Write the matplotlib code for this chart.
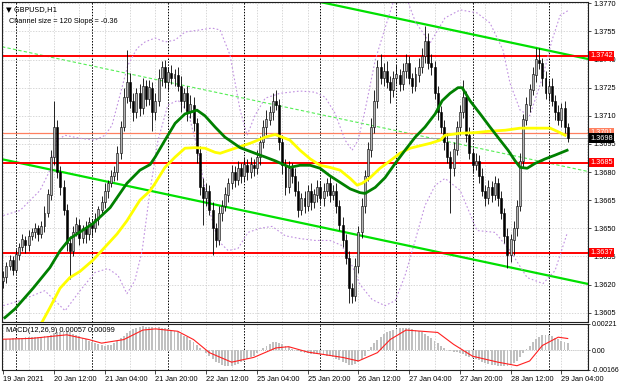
import numpy as np
import matplotlib.pyplot as plt
import matplotlib as mpl

mpl.rcParams['font.family'] = ['Liberation Sans', 'DejaVu Sans']
mpl.rcParams['savefig.dpi'] = 100

# all prices are stored as pips above BASE
BASE = 1.3600
PIP = 0.0001

# hourly bars from 19 Jan 20:00 to 29 Jan 06:00
first_open = 22
closes = [24, 30, 33, 28, 36, 40, 44, 41, 46, 48, 50, 47, 51, 58, 68, 88, 104, 80, 72, 60,
          42, 38, 48, 52, 45, 50, 47, 53, 50, 55, 60, 64, 70, 74, 78, 80, 90, 104, 120, 128,
          118, 112, 122, 114, 126, 119, 125, 112, 118, 130, 136, 128, 133, 130, 132, 126, 118, 122, 112, 116,
          106, 90, 72, 66, 70, 60, 50, 44, 58, 62, 68, 74, 80, 76, 82, 78, 84, 80, 84, 82,
          88, 96, 104, 108, 112, 118, 116, 96, 84, 72, 82, 78, 70, 60, 66, 62, 70, 64, 68, 72,
          66, 70, 74, 68, 70, 62, 52, 44, 34, 18, 14, 30, 48, 62, 78, 92, 104, 118, 136, 130,
          134, 128, 124, 130, 132, 127, 134, 138, 130, 126, 132, 136, 142, 150, 138, 136, 122, 112, 104, 96,
          88, 82, 92, 104, 112, 120, 100, 90, 84, 86, 78, 70, 66, 72, 68, 74, 66, 58, 46, 36,
          44, 50, 62, 86, 108, 116, 124, 132, 140, 138, 130, 122, 126, 118, 112, 108, 114, 104, 98]
upper_wick = [3, 2, 3, 2, 3, 2, 3, 2, 3, 2, 3, 2, 3, 4, 3, 4, 14, 4, 3, 4,
              3, 4, 3, 4, 3, 2, 4, 3, 2, 3, 2, 3, 4, 2, 3, 3, 4, 3, 5, 17,
              5, 4, 3, 5, 4, 3, 4, 3, 4, 5, 3, 4, 3, 4, 3, 4, 5, 3, 4, 5,
              4, 3, 4, 5, 4, 3, 4, 3, 4, 3, 4, 3, 4, 3, 4, 3, 4, 3, 4, 3,
              4, 3, 4, 5, 3, 4, 6, 3, 4, 3, 4, 3, 4, 5, 3, 4, 3, 4, 3, 4,
              3, 4, 3, 4, 3, 4, 3, 4, 3, 4, 3, 4, 3, 4, 3, 4, 5, 6, 4, 7,
              4, 5, 3, 4, 5, 3, 4, 5, 4, 3, 4, 5, 4, 8, 4, 5, 3, 4, 3, 4,
              5, 3, 4, 3, 4, 9, 3, 4, 3, 4, 3, 4, 3, 4, 3, 4, 3, 4, 3, 4,
              3, 4, 3, 4, 3, 4, 3, 4, 6, 6, 3, 4, 3, 4, 3, 4, 3, 4, 2]
lower_wick = [4, 3, 2, 3, 2, 3, 2, 4, 3, 2, 3, 4, 2, 3, 2, 3, 4, 3, 4, 3,
              4, 15, 3, 2, 4, 3, 5, 3, 4, 2, 3, 2, 3, 4, 2, 3, 4, 3, 2, 3,
              4, 5, 3, 4, 3, 4, 3, 10, 4, 3, 4, 3, 4, 3, 4, 3, 6, 4, 5, 3,
              4, 5, 4, 14, 4, 3, 14, 4, 3, 4, 3, 4, 3, 4, 3, 4, 3, 4, 3, 4,
              3, 4, 3, 4, 3, 4, 3, 4, 5, 4, 3, 4, 3, 4, 3, 4, 3, 4, 3, 4,
              3, 4, 3, 4, 3, 4, 3, 4, 3, 8, 4, 3, 4, 3, 4, 3, 4, 3, 4, 3,
              4, 3, 7, 4, 3, 4, 3, 4, 3, 4, 3, 4, 3, 4, 3, 4, 3, 4, 3, 4,
              3, 24, 4, 3, 4, 3, 4, 3, 4, 3, 4, 3, 4, 3, 4, 3, 4, 3, 4, 7,
              4, 8, 4, 3, 4, 3, 4, 3, 4, 3, 4, 3, 4, 3, 4, 3, 4, 3, 2]

# moving averages, read at sampled bars
green_bars = [0.5, 3.7, 9.4, 14.7, 17.9, 21, 25.1, 28.3, 33.7, 39, 43.1, 46.3, 47.9, 51, 54.2, 57.3,
              61.1, 63.6, 66.8, 69.9, 74.7, 79.4, 82.6, 85.7, 90.4, 93.6, 96.8, 99.9, 103, 106.2, 109.4,
              112.5, 114.1, 117.3, 120.4, 123.6, 126.7, 129.9, 133, 136.2, 138.4, 140.9, 143.4, 144.7,
              147.2, 150.4, 153.5, 156.7, 159.2, 161.4, 163, 165.2, 167.7, 170.9, 174, 177.8]
green_ma = [2.3, 7, 18, 29, 38, 44.5, 49, 52.5, 61, 74, 81, 84, 88, 97, 106, 111,
            113, 110, 104, 98.6, 93, 90, 88, 86, 82.5, 83.6, 83.6, 82, 78, 74.5, 71,
            69, 68.6, 71.8, 77, 84.6, 91.6, 98.6, 104, 111, 118, 122, 125, 125,
            118, 111, 104, 97, 91.6, 86, 82.5, 82, 84.6, 87, 89, 91.6]
yellow_bars = [11.6, 14.7, 17.9, 21, 24.2, 28.3, 32.1, 35.9, 39, 43.1, 46.3, 47.9, 51, 54.2, 57.3,
               60.5, 63.6, 66.8, 68.4, 73.1, 77.8, 82.6, 85.7, 88.9, 90.4, 93.6, 96.8, 99.9, 103,
               106.2, 109.4, 111.6, 113.2, 115.7, 118.8, 122, 125.1, 128.3, 131.4, 134.6, 137.8,
               139.3, 144.1, 148.8, 153.5, 158.3, 163, 167.7, 172.5, 175.6, 177.2]
yellow_ma = [-2, 7.6, 18, 23.7, 27, 33, 40, 47, 54, 65, 70, 74, 82.5, 88, 92.7,
             93, 92.7, 90.5, 90, 92.7, 95.3, 98.6, 100, 98, 97, 91.6, 87, 83.6, 82.5,
             81, 76.6, 73, 74, 77, 82, 86, 90, 92.7, 94, 95.3, 97,
             99.6, 100.7, 101, 101.8, 102.3, 103.4, 103.4, 103.4, 101, 99.6]

# envelope bands (dotted purple)
band_up_bars = [0, 5.3, 11.6, 14.7, 16.9, 19.5, 24.2, 28.9, 32.1, 34.3, 36.8, 39.3, 42.2, 44.7, 47.9,
                51, 54.2, 57.3, 62, 65.8, 68.4, 71.5, 74.7, 76.9, 79.4, 82.6, 87.3, 93.6, 98.3, 101.5,
                104.6, 107.8, 110, 111.9, 114.1, 117.3, 120.4, 123, 126, 130, 134.6, 139.3, 144.1,
                149.4, 153.5, 157.6, 159.8, 163, 166, 170, 173, 175.6, 178]
band_up = [56.8, 59.5, 70.2, 80.9, 97, 99.6, 98, 97, 99.6, 105, 121, 137, 146, 149.4, 151.5,
           149.4, 150.4, 154.7, 155.8, 156.8, 155.8, 142.4, 113, 99.6, 110.3, 119.4, 122, 123.2, 122.6, 119.9,
           111.4, 97, 91.6, 97, 113, 139.7, 156.8, 170.7, 178, 160, 148.8, 162.2, 166.5,
           164.9, 159.5, 145, 127.4, 113, 110, 130, 150, 163.5, 166]
band_dn_bars = [0, 5.3, 13.1, 16.3, 19.5, 24.2, 28.9, 33, 36.2, 39, 41.5, 43.8, 46.3, 48.8, 51.9,
                55.1, 58.3, 61.4, 64.6, 67.7, 70.9, 74, 77.2, 81, 84.8, 88.9, 93.6, 98.3, 103,
                106.8, 110, 112.5, 116.3, 120.4, 123.6, 126.7, 129.9, 133, 136.2, 139.3, 144.1,
                149.4, 155.1, 159.8, 165.2, 170.2, 174, 177.8]
band_dn = [8.7, 11.4, 16.7, 11.4, 6, 16.7, 26.4, 28.5, 24.8, 15.1, 22.1, 38.1, 70.2, 97, 115.7,
           118.3, 111.9, 91.6, 62.2, 43.5, 38.1, 39.2, 47.8, 50, 51, 46, 44.5, 43.5, 43.5,
           40.8, 30, 20, 12, 8.7, 11.4, 24.8, 43.5, 62.2, 72.9, 76.6, 70.2,
           48.8, 47.8, 38.1, 23.7, 20.5, 27.4, 47.2]

# MACD histogram (x1e-5) per bar and signal line at sampled bars
macd_hist = [92, 95, 98, 100, 102, 104, 106, 108, 110, 110, 112, 113, 115, 118, 122, 130,
             142, 150, 156, 160, 158, 152, 140, 128, 116, 104, 92, 80, 70, 58, 50, 44, 40, 42, 48,
             62, 80, 100, 122, 145, 165, 180, 190, 196, 200, 198, 196, 194, 196, 192, 190, 186, 180,
             170, 160, 150, 138, 124, 108, 90, 70, 45, 20, 0, -25, -50, -75, -95, -110, -125, -132, -135, -130,
             -122, -112, -100, -88, -75, -60, -45, -25, 0, 20, 40, 55, 68, 70, 62, 50,
             38, 25, 12, 2, -8, -15, -20, -25, -28, -30, -32, -35, -38, -45, -52, -60, -70, -80, -95,
             -110, -120, -125, -118, -100, -75, -45, -10, 25,
             60, 90, 115, 135, 150, 162, 172, 180, 186, 190, 190,
             186, 180, 172, 162, 150, 135, 118, 100, 80, 60, 40, 20, 5, -5, -12, -18, -25,
             -35, -45, -55, -65, -75, -85, -95, -104, -112, -120, -126, -130, -134, -135, -132, -125,
             -110, -90, -60, -25, 10, 40, 70, 95, 115, 128, 132, 128, 118, 105, 92, 80, 68, 57]
signal_bars = [0, 9, 20, 27, 31, 38, 44, 48, 55, 60, 65, 72, 79, 86, 90, 96, 107, 112, 118, 122,
               127, 137, 142, 148, 156, 162, 166, 170, 175, 178]
signal = [93, 100, 130, 90, 60, 90, 170, 180, 160, 90, -20, -100, -60, 20, 30, -15, -60, -90, -20, 90,
          170, 150, 50, -50, -100, -130, -90, 40, 110, 99]

# horizontal levels
levels_red = [1.3742, 1.3685, 1.3637]
level_salmon = 1.3701
last_price = 1.3698

# regression channel, anchored at last bar
ch_last_bar = 178
ch_mid_last = 82.6
ch_slope = -0.36
ch_half = 60

tick_labels = ["19 Jan 2021", "20 Jan 12:00", "21 Jan 04:00", "21 Jan 20:00", "22 Jan 12:00",
               "25 Jan 04:00", "25 Jan 20:00", "26 Jan 12:00", "27 Jan 04:00", "27 Jan 20:00",
               "28 Jan 12:00", "29 Jan 04:00"]

closes = np.array(closes, float)
opens = np.concatenate([[first_open], closes[:-1]])
highs = np.maximum(opens, closes) + np.array(upper_wick)
lows = np.minimum(opens, closes) - np.array(lower_wick)
n = len(closes)
bars = np.arange(n)

def px(p):
    return BASE + np.asarray(p, float) * PIP

fig = plt.figure(figsize=(6.2, 3.88))
ax = fig.add_axes([2 / 620, 1 - 322 / 388, 586 / 620, 320 / 388])
mx = fig.add_axes([2 / 620, 1 - 370 / 388, 586 / 620, 46 / 388])

xlim = (-0.4, 184.4)
fs = 5.3
for a in (ax, mx):
    a.set_xlim(*xlim)
    for s in a.spines.values():
        s.set_linewidth(0.8)
        s.set_color('#202020')
    for g in range(0, 185, 8):
        a.axvline(g, color='#c8c8c8', lw=0.5, ls=(0, (2, 2)), zorder=0)
    for d in range(4, 185, 24):
        a.axvline(d, color='black', lw=0.7, ls=(0, (1.5, 1.5)), zorder=0.5)

# price panel
ymin, ymax = BASE, BASE + 170.7 * PIP
ax.set_ylim(ymin, ymax)
yt = [1.3605 + 0.0015 * k for k in range(12)]
for y in yt:
    ax.axhline(y, color='#c8c8c8', lw=0.5, ls=(0, (2, 2)), zorder=0)
ax.yaxis.tick_right()
ax.set_yticks(yt)
ax.set_yticklabels(['%.4f' % y for y in yt], fontsize=fs)
ax.tick_params(axis='y', length=2, width=0.5, pad=2)
ax.set_xticks([])

# channel
xs = np.array(xlim)
mid = px(ch_mid_last + ch_slope * (xs - ch_last_bar))
ax.plot(xs, mid + ch_half * PIP, color='#00e000', lw=1.6, zorder=2)
ax.plot(xs, mid - ch_half * PIP, color='#00e000', lw=1.6, zorder=2)
ax.plot(xs, mid, color='#55ee55', lw=0.8, ls=(0, (3, 2)), zorder=2)

for lv in levels_red:
    ax.axhline(lv, color='#ff0000', lw=1.4, zorder=2)
ax.axhline(level_salmon, color='#ff8060', lw=0.9, zorder=2)
ax.axhline(last_price, color='#a0a0a0', lw=0.7, zorder=2)

# bands
ax.plot(band_up_bars, px(band_up), color='#c090e0', lw=0.8, ls=(0, (1.5, 2)), zorder=2.5)
ax.plot(band_dn_bars, px(band_dn), color='#c090e0', lw=0.8, ls=(0, (1.5, 2)), zorder=2.5)

# candles
up = closes >= opens
ax.vlines(bars, px(lows), px(highs), color='black', lw=0.6, zorder=3)
ax.bar(bars[up], (closes - opens)[up] * PIP + 0.00001, bottom=px(opens)[up], width=0.62,
       color='#b4b4b4', edgecolor='black', lw=0.4, zorder=3.5)
ax.bar(bars[~up], (opens - closes)[~up] * PIP, bottom=px(closes)[~up], width=0.62,
       color='black', edgecolor='black', lw=0.4, zorder=3.5)

ax.plot(yellow_bars, px(yellow_ma), color='#ffff00', lw=2.0, zorder=4)
ax.plot(green_bars, px(green_ma), color='#008000', lw=2.0, zorder=4)

# right-side price boxes
def price_box(a, y, txt, fc, tc='white'):
    a.text(1.004, y, txt, transform=a.get_yaxis_transform(), fontsize=fs, color=tc, va='center',
           ha='left', zorder=10, clip_on=False,
           bbox=dict(boxstyle='square,pad=0.18', fc=fc, ec='none'))

price_box(ax, level_salmon, '1.3701', '#ff8060')
price_box(ax, last_price, '%.4f' % last_price, 'black')
for lv in levels_red:
    price_box(ax, lv, '%.4f' % lv, '#ff0000')

ax.text(0.006, 0.985, '\u25bc GBPUSD,H1', transform=ax.transAxes, fontsize=fs, va='top', ha='left',
        family=['DejaVu Sans'])
ax.text(0.012, 0.95, 'Channel size = 120 Slope = -0.36', transform=ax.transAxes, fontsize=fs,
        va='top', ha='left')

# MACD panel
mx.set_ylim(-0.00166, 0.00221)
mx.axhline(0, color='#a0a0a0', lw=0.5, ls=(0, (1.5, 1.5)), zorder=0)
mx.bar(bars, np.array(macd_hist) * 1e-5, width=0.6, color='#c0c0c0', zorder=2)
mx.plot(signal_bars, np.array(signal) * 1e-5, color='#ff2020', lw=0.8, zorder=3)
mx.yaxis.tick_right()
mx.set_yticks([0.00221, 0.0, -0.00166])
mx.set_yticklabels(['0.00221', '0.00', '-0.00166'], fontsize=5.0)
mx.tick_params(axis='y', length=1.5, width=0.5, pad=1)
mx.set_xticks(range(0, 177, 16))
mx.set_xticklabels(tick_labels, fontsize=fs, ha='left')
mx.tick_params(axis='x', length=3, width=0.5, pad=1.5)
mx.text(0.006, 0.93, 'MACD(12,26,9) 0.00057 0.00099', transform=mx.transAxes, fontsize=fs,
        va='top', ha='left')

fig.savefig('out.png', dpi=100)
